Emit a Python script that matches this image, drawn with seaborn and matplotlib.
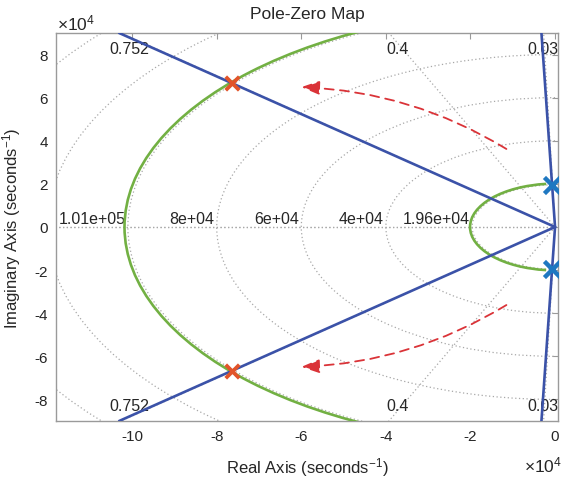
import numpy as np
import pandas as pd
import matplotlib
matplotlib.use("Agg")
import matplotlib.pyplot as plt
from matplotlib.patches import Arc, FancyArrowPatch
import seaborn as sns

# ---------------- data ----------------
blue_poles_re = [-700, -700]
blue_poles_im = [19600, -19600]
orange_poles_re = [-76500, -76500]
orange_poles_im = [66800, -66800]

green_arc_radius = [20100, 101800]
green_arc_theta1 = [96, 90]
green_arc_theta2 = [264, 270]

wn_grid = [19600, 40000, 60000, 80000, 101000, 120000, 140000]
wn_labels = ["1.96e+04", "4e+04", "6e+04", "8e+04", "1.01e+05", "", ""]
zeta_grid = [0.03, 0.4, 0.752, 1.0]
zeta_labels = ["0.03", "0.4", "0.752", ""]

arrow_start_re = [-11500, -11500]
arrow_start_im = [36200, -36200]
arrow_end_re = [-60000, -60000]
arrow_end_im = [64900, -64900]
arrow_rad = [0.13, -0.13]

xticks = [-10, -8, -6, -4, -2, 0]
yticks = [-8, -6, -4, -2, 0, 2, 4, 6, 8]
tick_scale = 1e4
xlim = (-118000, 700)
ylim = (-90000, 90000)

# ---------------- style ----------------
sns.set_style("white")
plt.rcParams["font.family"] = ["Liberation Sans", "DejaVu Sans"]
plt.rcParams["mathtext.fontset"] = "custom"
plt.rcParams["mathtext.rm"] = "Liberation Sans"
plt.rcParams["mathtext.it"] = "Liberation Sans:italic"
plt.rcParams["axes.unicode_minus"] = False

BLUE_LINE = "#3B52A8"
GREEN = "#72B043"
RED = "#DA3338"
BLUE_MK = "#1F78C1"
ORANGE_MK = "#E2542A"
GRID = "#A8A8A8"
SPINE = "#9A9A9A"
TXT = "#262626"

fig = plt.figure(figsize=(5.63, 4.81), dpi=100)
ax = fig.add_axes([56 / 563, 1 - 422 / 481, (558 - 56) / 563, (422 - 34) / 481])
ax.set_xlim(*xlim)
ax.set_ylim(*ylim)

# ---------------- s-plane grid ----------------
dots = (0, (1, 2))
for wn in wn_grid:
    ax.add_patch(Arc((0, 0), 2 * wn, 2 * wn, theta1=90, theta2=270,
                     color=GRID, lw=0.9, ls=dots, zorder=1))
for z in zeta_grid:
    ang = np.pi - np.arccos(z)
    R = 3e5
    ax.plot([0, R * np.cos(ang)], [0, R * np.sin(ang)], color=GRID, lw=0.9, ls=dots, zorder=1)
    ax.plot([0, R * np.cos(ang)], [0, -R * np.sin(ang)], color=GRID, lw=0.9, ls=dots, zorder=1)

for wn, lab in zip(wn_grid, wn_labels):
    if lab:
        ax.text(-wn - 600, 500, lab, ha="right", va="bottom", fontsize=11.5, color=TXT, zorder=2)

for z, lab in zip(zeta_grid, zeta_labels):
    if not lab:
        continue
    xr = -z / np.sqrt(1 - z ** 2) * ylim[1]
    xl = min(xr + 2000, xlim[1] - 3600)
    ax.text(xl, 83000, lab, ha="center", va="center", fontsize=11.5, color=TXT, zorder=2)
    ax.text(xl, -83000, lab, ha="center", va="center", fontsize=11.5, color=TXT, zorder=2)

# ---------------- green arcs ----------------
for r, t1, t2 in zip(green_arc_radius, green_arc_theta1, green_arc_theta2):
    ax.add_patch(Arc((0, 0), 2 * r, 2 * r, theta1=t1, theta2=t2,
                     color=GREEN, lw=1.9, zorder=3))

# ---------------- blue rays through the poles ----------------
all_re = blue_poles_re + orange_poles_re
all_im = blue_poles_im + orange_poles_im
for re_, im_ in zip(all_re, all_im):
    t = ylim[1] / abs(im_)
    sns.lineplot(x=[0, re_ * t], y=[0, im_ * t], sort=False, estimator=None,
                 color=BLUE_LINE, lw=1.9, ax=ax, zorder=4)

# ---------------- red dashed arrows ----------------
for sx, sy, ex, ey, rad in zip(arrow_start_re, arrow_start_im, arrow_end_re, arrow_end_im, arrow_rad):
    arr = FancyArrowPatch((sx, sy), (ex, ey), connectionstyle=f"arc3,rad={rad}",
                          arrowstyle="-|>,head_length=1.1,head_width=0.42",
                          mutation_scale=10, color=RED, lw=1.3, ls=(0, (5, 3.5)),
                          shrinkA=0, shrinkB=0, zorder=5)
    ax.add_patch(arr)

# ---------------- poles ----------------
sns.scatterplot(x=orange_poles_re, y=orange_poles_im, marker="x", s=95,
                color=ORANGE_MK, linewidths=2.7, ax=ax, zorder=6)
sns.scatterplot(x=blue_poles_re, y=blue_poles_im, marker="x", s=135,
                color=BLUE_MK, linewidths=3.2, ax=ax, zorder=6)

# ---------------- axes cosmetics ----------------
ax.set_xticks([v * tick_scale for v in xticks])
ax.set_xticklabels([str(v) for v in xticks])
ax.set_yticks([v * tick_scale for v in yticks])
ax.set_yticklabels([str(v) for v in yticks])
ax.tick_params(direction="in", top=True, right=True, length=4, width=0.8,
               color=SPINE, labelsize=11, labelcolor=TXT, pad=6)
for s in ax.spines.values():
    s.set_color(SPINE)
    s.set_linewidth(1.0)
    s.set_visible(True)

ax.set_xlabel("Real Axis (seconds$^{-1}$)", fontsize=12, color=TXT)
ax.set_ylabel("Imaginary Axis (seconds$^{-1}$)", fontsize=12, color=TXT)
ax.xaxis.set_label_coords(0.5, -0.088)
ax.yaxis.set_label_coords(-0.066, 0.5)

fig.text(307 / 563, 1 - 15 / 481, "Pole-Zero Map", ha="center", va="center",
         fontsize=12.5, color=TXT)
fig.text(57 / 563, 1 - 23 / 481, "×10$^{4}$", ha="left", va="center", fontsize=12.5, color=TXT)
fig.text(562 / 563, 1 - 465 / 481, "×10$^{4}$", ha="right", va="center", fontsize=12.5, color=TXT)

fig.savefig("out.png", dpi=100, facecolor="white")
